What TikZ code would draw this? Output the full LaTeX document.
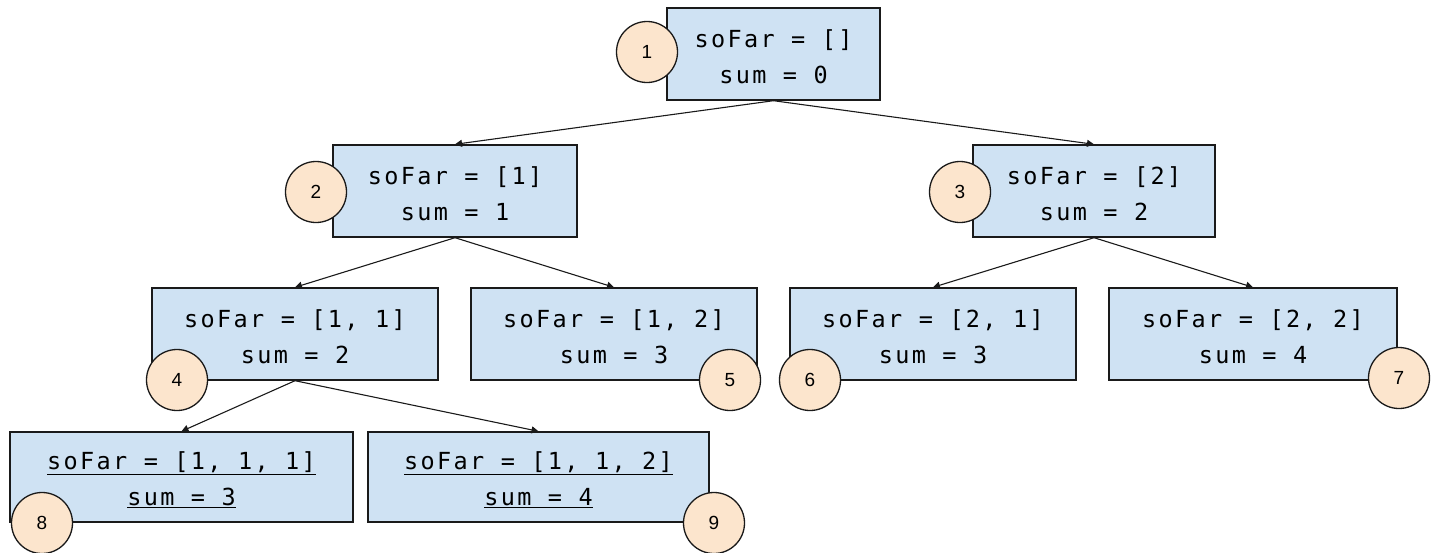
\documentclass[tikz,border=0pt]{standalone}
\usepackage{fontspec}
\setmainfont{Liberation Sans}
\newfontfamily\codefont[LetterSpace=10]{DejaVu Sans Mono}
\usetikzlibrary{arrows.meta}
\definecolor{boxfill}{HTML}{CFE2F3}
\definecolor{circfill}{HTML}{FCE5CD}
\definecolor{edge}{HTML}{1A1A1A}
\newcommand{\toplift}{\rule{0pt}{24pt}}
\tikzset{
  state/.style={draw=edge, line width=1.4pt, fill=boxfill, rectangle, inner sep=0pt,
    minimum height=92pt, align=center, font=\codefont\fontsize{23.5}{36}\selectfont},
  num/.style={draw=edge, line width=1.3pt, fill=circfill, circle, inner sep=0pt,
    minimum size=61pt, font=\fontsize{19}{22}\selectfont},
  link/.style={draw=edge, line width=1.1pt, -{Triangle[length=7pt,width=7pt]}}
}
\begin{document}
\begin{tikzpicture}[x=1pt,y=-1pt]
\useasboundingbox (0,0) rectangle (1442,552);
\node[state, minimum width=213pt] (b1) at (773.5,54) {\toplift soFar = []\\sum = 0};
\node[state, minimum width=244pt] (b2) at (455,191) {\toplift soFar = [1]\\sum = 1};
\node[state, minimum width=242pt] (b3) at (1094,191) {\toplift soFar = [2]\\sum = 2};
\node[state, minimum width=286pt] (b4) at (295,334) {\toplift soFar = [1, 1]\\sum = 2};
\node[state, minimum width=286pt] (b5) at (614,334) {\toplift soFar = [1, 2]\\sum = 3};
\node[state, minimum width=286pt] (b6) at (933,334) {\toplift soFar = [2, 1]\\sum = 3};
\node[state, minimum width=288pt] (b7) at (1253,334) {\toplift soFar = [2, 2]\\sum = 4};
\node[state, minimum width=343pt, minimum height=90pt] (b8) at (181.5,477) {\toplift\underline{soFar = [1, 1, 1]}\\\underline{sum = 3}};
\node[state, minimum width=341pt, minimum height=90pt] (b9) at (538.5,477) {\toplift\underline{soFar = [1, 1, 2]}\\\underline{sum = 4}};
\path[link] (b1.south) -- (b2.north);
\path[link] (b1.south) -- (b3.north);
\path[link] (b2.south) -- (b4.north);
\path[link] (b2.south) -- (b5.north);
\path[link] (b3.south) -- (b6.north);
\path[link] (b3.south) -- (b7.north);
\path[link] (b4.south) -- (b8.north);
\path[link] (b4.south) -- (b9.north);
\node[num] (c1) at (647,52) {1};
\node[num] (c2) at (316,192) {2};
\node[num] (c3) at (960,192) {3};
\node[num] (c4) at (177,380) {4};
\node[num] (c5) at (730,380) {5};
\node[num] (c6) at (810,380) {6};
\node[num] (c7) at (1399,378) {7};
\node[num] (c8) at (42,523) {8};
\node[num] (c9) at (714,523) {9};
\end{tikzpicture}
\end{document}
